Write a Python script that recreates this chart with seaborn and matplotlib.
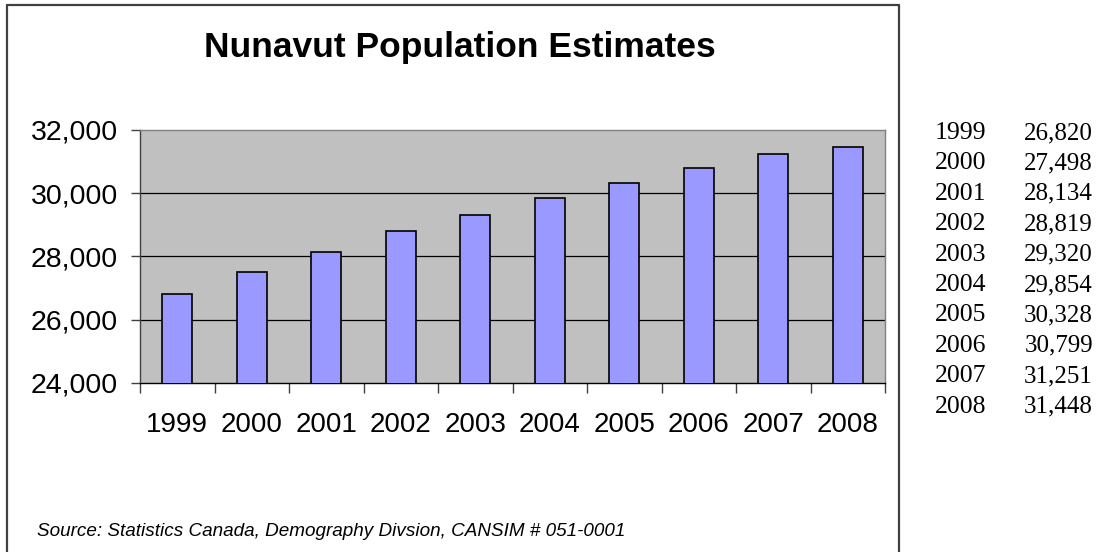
import matplotlib
matplotlib.use("Agg")
import matplotlib.pyplot as plt
from matplotlib.ticker import FuncFormatter, FixedLocator
import seaborn as sns
import pandas as pd

# Nunavut population estimates, 1999-2008
years = ["1999", "2000", "2001", "2002", "2003", "2004", "2005", "2006", "2007", "2008"]
population = [26820, 27498, 28134, 28819, 29320, 29854, 30328, 30799, 31251, 31448]
y_ticks = [24000, 26000, 28000, 30000, 32000]

title = "Nunavut Population Estimates"
source = "Source: Statistics Canada, Demography Divsion, CANSIM # 051-0001"

df = pd.DataFrame({"year": years, "population": population})

sns.set_theme(style="white")
plt.rcParams["font.family"] = ["Liberation Sans", "DejaVu Sans"]
plt.rcParams["text.color"] = "black"
plt.rcParams["xtick.color"] = "black"
plt.rcParams["ytick.color"] = "black"

W, H = 1110, 552
fig = plt.figure(figsize=(W / 100, H / 100), dpi=100)
fig.patch.set_facecolor("white")

# chart frame (open at the bottom)
fx0, fy0, fx1 = 7 / W, 1 - 5 / H, 899 / W
frame_kw = dict(color="#404040", lw=1.6, transform=fig.transFigure)
fig.add_artist(plt.Line2D([fx0, fx0], [0, fy0], **frame_kw))
fig.add_artist(plt.Line2D([fx0, fx1], [fy0, fy0], **frame_kw))
fig.add_artist(plt.Line2D([fx1, fx1], [0, fy0], **frame_kw))

# plot area
px0, py0, px1, py1 = 140, 130, 885, 383
ax = fig.add_axes([px0 / W, 1 - py1 / H, (px1 - px0) / W, (py1 - py0) / H])
ax.set_facecolor("#C0C0C0")

sns.barplot(data=df, x="year", y="population", ax=ax, color="#9999FF",
            saturation=1, width=0.4, edgecolor="black", linewidth=1.2, zorder=3)

ax.set_xlim(-0.5, len(years) - 0.5)
ax.set_ylim(y_ticks[0], y_ticks[-1])
ax.set_yticks(y_ticks)
ax.yaxis.set_major_formatter(FuncFormatter(lambda v, p: f"{int(v):,}"))
ax.set_xlabel("")
ax.set_ylabel("")

for yv in y_ticks[1:-1]:
    ax.axhline(yv, color="black", lw=0.9, zorder=1)

ax.tick_params(axis="y", which="major", direction="out", length=6.5, width=1,
               color="#404040", labelsize=20.5, pad=9.5, left=True,
               labelcolor="black")
ax.tick_params(axis="x", which="major", length=0, labelsize=20, pad=21,
               labelcolor="black")
ax.xaxis.set_minor_locator(FixedLocator([i - 0.5 for i in range(len(years) + 1)]))
ax.tick_params(axis="x", which="minor", direction="out", length=7, width=1,
               color="#404040", bottom=True)

for side in ["top", "right"]:
    ax.spines[side].set_color("#808080")
    ax.spines[side].set_linewidth(1.0)
ax.spines["left"].set_color("#404040")
ax.spines["bottom"].set_color("black")
for side in ["left", "bottom"]:
    ax.spines[side].set_linewidth(1.0)

fig.text(460 / W, 1 - 48 / H, title, ha="center", va="center",
         fontsize=25.5, fontweight="bold", color="black")
fig.text(37 / W, 1 - 531 / H, source, ha="left", va="center",
         fontsize=13.6, fontstyle="italic", color="black")

# side table of values
row0, step = 133, 30.4
serif = ["Liberation Serif", "DejaVu Serif"]
for i, (yr, val) in enumerate(zip(years, population)):
    yy = 1 - (row0 + i * step) / H
    fig.text(935 / W, yy, yr, ha="left", va="center", fontsize=18.5,
             family=serif, color="black")
    fig.text(1093 / W, yy, f"{val:,}", ha="right", va="center", fontsize=18,
             family=serif, color="black")

fig.savefig("out.png", dpi=100)
